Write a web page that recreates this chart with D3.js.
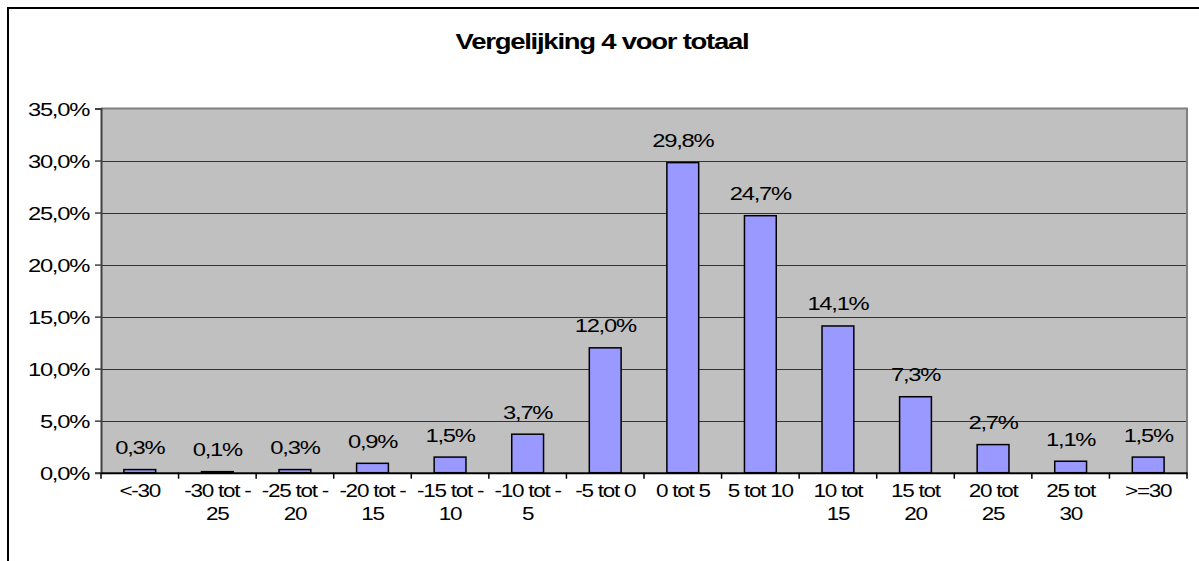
<!DOCTYPE html>
<html>
<head>
<meta charset="utf-8">
<script src="https://cdn.jsdelivr.net/npm/d3@7"></script>
<style>
  html, body { margin: 0; padding: 0; background: #fff; }
  svg { display: block; }
  text { font-family: "Liberation Sans", Arial, sans-serif; fill: #000; }
</style>
</head>
<body>
<svg id="chart" width="1199" height="561"></svg>
<script>
// ---- data ----
const title = "Vergelijking 4 voor totaal";
const categories = ["<-30", "-30 tot -25", "-25 tot -20", "-20 tot -15", "-15 tot -10", "-10 tot -5", "-5 tot 0", "0 tot 5", "5 tot 10", "10 tot 15", "15 tot 20", "20 tot 25", "25 tot 30", ">=30"];
const categoryLines = [["<-30"], ["-30 tot -", "25"], ["-25 tot -", "20"], ["-20 tot -", "15"], ["-15 tot -", "10"], ["-10 tot -", "5"], ["-5 tot 0"], ["0 tot 5"], ["5 tot 10"], ["10 tot", "15"], ["15 tot", "20"], ["20 tot", "25"], ["25 tot", "30"], [">=30"]];
const values = [0.3, 0.1, 0.3, 0.9, 1.5, 3.7, 12.0, 29.8, 24.7, 14.1, 7.3, 2.7, 1.1, 1.5];
const yTicks = [0, 5, 10, 15, 20, 25, 30, 35];

// ---- layout ----
const SX = 1.25; // horizontal stretch of glyphs in reference
const FS = 19;
const plot = { left: 101, right: 1187, top: 108.5, bottom: 472.7 };
const svg = d3.select("#chart");

const fmt = v => d3.format(".1f")(v).replace(".", ",") + "%";

const x = d3.scaleBand().domain(categories).range([plot.left, plot.right]).paddingInner(0).paddingOuter(0);
const y = d3.scaleLinear().domain([0, 35]).range([plot.bottom, plot.top]);

// outer chart border
svg.append("rect").attr("x", 8).attr("y", 8).attr("width", 1300).attr("height", 700)
  .attr("fill", "none").attr("stroke", "#000").attr("stroke-width", 2);

// title
svg.append("text")
  .attr("transform", `translate(602,49.3) scale(${SX},1)`)
  .attr("text-anchor", "middle")
  .attr("font-size", 22).attr("font-weight", "bold").attr("letter-spacing", -1)
  .text(title);

// plot background
svg.append("rect").attr("x", plot.left).attr("y", plot.top)
  .attr("width", plot.right - plot.left).attr("height", plot.bottom - plot.top)
  .attr("fill", "#C0C0C0");

// gridlines
svg.append("g").selectAll("line").data(yTicks.filter(d => d > 0 && d < 35)).join("line")
  .attr("x1", plot.left).attr("x2", plot.right)
  .attr("y1", d => Math.round(y(d)) + 0.5).attr("y2", d => Math.round(y(d)) + 0.5)
  .attr("stroke", "#333").attr("stroke-width", 1);

// plot border top & right (gray)
svg.append("path")
  .attr("d", `M${plot.left},${plot.top}H${plot.right}V${plot.bottom}`)
  .attr("fill", "none").attr("stroke", "#808080").attr("stroke-width", 2);

// bars
const barW = x.bandwidth() * 0.41;
svg.append("g").selectAll("rect").data(values).join("rect")
  .attr("x", (d, i) => x(categories[i]) + (x.bandwidth() - barW) / 2)
  .attr("y", d => y(d))
  .attr("width", barW)
  .attr("height", d => y(0) - y(d))
  .attr("fill", "#9999FF").attr("stroke", "#000").attr("stroke-width", 1.5);

// bar value labels
svg.append("g").selectAll("text").data(values).join("text")
  .attr("transform", (d, i) => `translate(${x(categories[i]) + x.bandwidth() / 2},${y(d) - 15.5}) scale(${SX},1)`)
  .attr("text-anchor", "middle").attr("font-size", FS).attr("letter-spacing", -1)
  .text(d => fmt(d));

// y axis
const yAxis = d3.axisLeft(y).tickValues(yTicks).tickSize(6).tickPadding(0).tickFormat(fmt);
const gy = svg.append("g").attr("transform", `translate(${plot.left},0)`).call(yAxis);
gy.select(".domain").attr("stroke", "#404040").attr("stroke-width", 2);
gy.selectAll(".tick line").attr("stroke", "#404040").attr("stroke-width", 1.5);
gy.selectAll(".tick text")
  .attr("x", -12 / SX).attr("dy", "0.35em")
  .attr("transform", `scale(${SX},1)`)
  .attr("font-size", FS).attr("letter-spacing", -1)
  .attr("font-family", null).style("font-family", "'Liberation Sans', Arial, sans-serif").attr("fill", "#000");

// x axis (line, boundary ticks)
const gx = svg.append("g").attr("transform", `translate(0,${plot.bottom})`)
  .call(d3.axisBottom(x).tickSize(0).tickFormat(""));
gx.select(".domain").attr("stroke", "#000").attr("stroke-width", 2);
const boundaries = categories.map(c => x(c)).concat([x(categories[categories.length - 1]) + x.bandwidth()]);
gx.append("g").selectAll("line").data(boundaries).join("line")
  .attr("x1", d => d).attr("x2", d => d).attr("y1", 0).attr("y2", 6)
  .attr("stroke", "#000").attr("stroke-width", 1.5);

// category labels
const cl = svg.append("g").selectAll("text").data(categoryLines).join("text")
  .attr("transform", (d, i) => `translate(${x(categories[i]) + x.bandwidth() / 2},497) scale(${SX},1)`)
  .attr("text-anchor", "middle").attr("font-size", 18).attr("letter-spacing", -1);
cl.selectAll("tspan").data(d => d).join("tspan")
  .attr("x", 0).attr("dy", (d, i) => i === 0 ? 0 : 23)
  .text(d => d);
</script>
</body>
</html>
